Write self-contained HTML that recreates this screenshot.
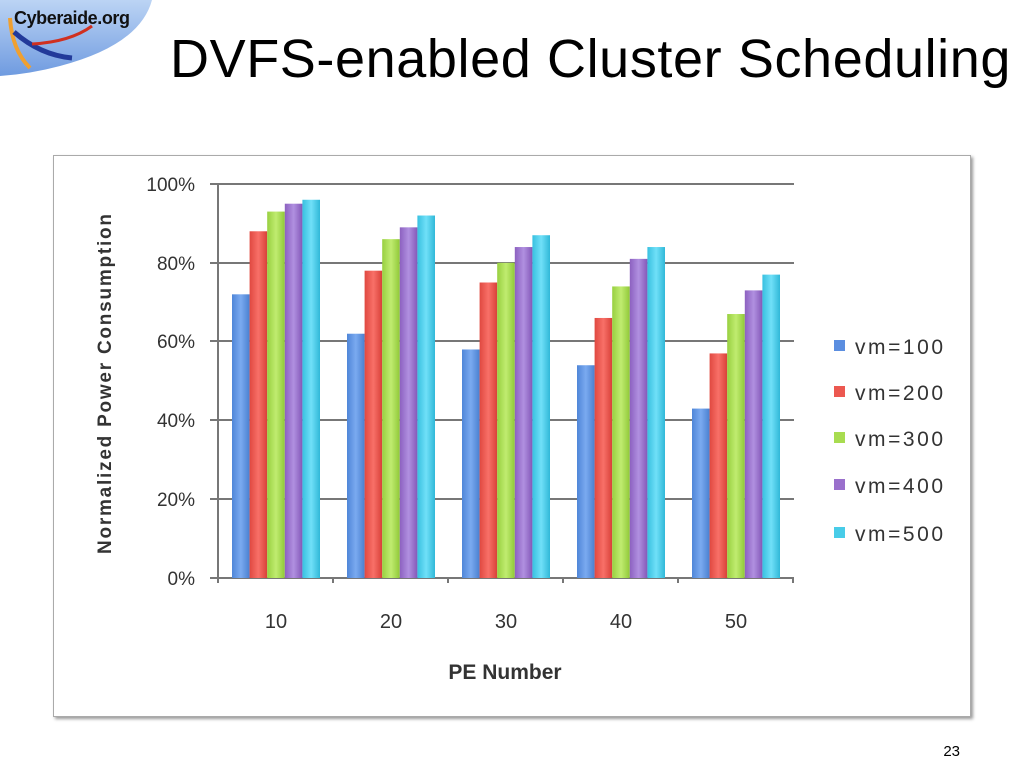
<!DOCTYPE html>
<html><head><style>
body{margin:0;width:1024px;height:768px;background:#fff;overflow:hidden;position:relative;font-family:"Liberation Sans",sans-serif}
.t{position:absolute;left:170px;top:28px;font-size:54px;color:#000;white-space:nowrap;letter-spacing:0.6px}
.box{position:absolute;left:53px;top:155px;width:916px;height:560px;border:1px solid #aaa;box-shadow:2px 2px 3px #999;background:#fff}
</style></head><body>
<svg style="position:absolute;left:0;top:0" width="160" height="80">
<defs><linearGradient id="g" x1="0" y1="0" x2="0" y2="1"><stop offset="0" stop-color="#bcd4f4"/><stop offset="1" stop-color="#6f9be0"/></linearGradient></defs>
<path d="M0 0 H152 Q140 45 60 66 Q30 74 0 76 Z" fill="url(#g)"/>
<path d="M10 18 Q12 50 30 68" stroke="#f0a030" stroke-width="4" fill="none"/>
<path d="M14 32 Q40 55 72 58" stroke="#223a9a" stroke-width="5" fill="none"/>
<path d="M32 44 Q70 42 92 26" stroke="#d03020" stroke-width="3" fill="none"/>
<text x="14" y="24" font-family="Liberation Sans" font-weight="bold" font-size="18" fill="#111" textLength="116">Cyberaide.org</text>
</svg>
<div class="t">DVFS-enabled Cluster Scheduling</div>
<div class="box"></div>
<svg style="position:absolute;left:0;top:0" width="1024" height="768" font-family="Liberation Sans">
<defs>
<linearGradient id="c0" x1="0" x2="1"><stop offset="0" stop-color="#4f86d8"/><stop offset=".5" stop-color="#7aaaf0"/><stop offset="1" stop-color="#4a80d0"/></linearGradient>
<linearGradient id="c1" x1="0" x2="1"><stop offset="0" stop-color="#e04840"/><stop offset=".5" stop-color="#f87068"/><stop offset="1" stop-color="#d84038"/></linearGradient>
<linearGradient id="c2" x1="0" x2="1"><stop offset="0" stop-color="#98d040"/><stop offset=".5" stop-color="#c0ec70"/><stop offset="1" stop-color="#90c838"/></linearGradient>
<linearGradient id="c3" x1="0" x2="1"><stop offset="0" stop-color="#8c60c0"/><stop offset=".5" stop-color="#b090e0"/><stop offset="1" stop-color="#8458b8"/></linearGradient>
<linearGradient id="c4" x1="0" x2="1"><stop offset="0" stop-color="#38c0e0"/><stop offset=".5" stop-color="#70e0f8"/><stop offset="1" stop-color="#30b8d8"/></linearGradient>
</defs>
<g stroke="#777" stroke-width="2">
<line x1="210" y1="184" x2="794" y2="184"/><line x1="210" y1="263" x2="794" y2="263"/>
<line x1="210" y1="341" x2="794" y2="341"/><line x1="210" y1="420" x2="794" y2="420"/>
<line x1="210" y1="499" x2="794" y2="499"/><line x1="210" y1="578" x2="794" y2="578"/>
<line x1="218" y1="184" x2="218" y2="583"/>
<line x1="333" y1="578" x2="333" y2="583"/><line x1="448" y1="578" x2="448" y2="583"/>
<line x1="563" y1="578" x2="563" y2="583"/><line x1="678" y1="578" x2="678" y2="583"/><line x1="793" y1="578" x2="793" y2="583"/>
</g>
<g id="bars"></g>
<g font-size="19" fill="#333" text-anchor="end">
<text x="195" y="191">100%</text><text x="195" y="270">80%</text><text x="195" y="348">60%</text>
<text x="195" y="427">40%</text><text x="195" y="506">20%</text><text x="195" y="585">0%</text>
</g>
<g font-size="20" fill="#333" text-anchor="middle">
<text x="276" y="628">10</text><text x="391" y="628">20</text><text x="506" y="628">30</text><text x="621" y="628">40</text><text x="736" y="628">50</text>
</g>
<text x="505" y="679" font-size="21" font-weight="bold" fill="#333" text-anchor="middle">PE Number</text>
<text transform="translate(111,384) rotate(-90)" font-size="19" font-weight="bold" fill="#333" text-anchor="middle" textLength="340">Normalized Power Consumption</text>
<g font-size="21" fill="#333">
<rect x="834" y="340" width="11" height="11" fill="#5b8ee0"/><text x="855" y="354" textLength="88">vm=100</text>
<rect x="834" y="386" width="11" height="11" fill="#ec5850"/><text x="855" y="400" textLength="88">vm=200</text>
<rect x="834" y="432" width="11" height="11" fill="#a8dc50"/><text x="855" y="446" textLength="88">vm=300</text>
<rect x="834" y="479" width="11" height="11" fill="#9a70cc"/><text x="855" y="493" textLength="88">vm=400</text>
<rect x="834" y="527" width="11" height="11" fill="#48cce8"/><text x="855" y="541" textLength="88">vm=500</text>
</g>
<text x="960" y="756" font-size="15" fill="#000" text-anchor="end">23</text>
</svg>
<script>
var v=[[72,88,93,95,96],[62,78,86,89,92],[58,75,80,84,87],[54,66,74,81,84],[43,57,67,73,77]];
var g=document.getElementById('bars'),s='';
for(var i=0;i<5;i++)for(var j=0;j<5;j++){var h=v[i][j]*3.94,x=232+i*115+j*17.6;
s+='<rect x="'+x+'" y="'+(578-h)+'" width="17.6" height="'+h+'" fill="url(#c'+j+')"/>';}
g.innerHTML=s;
</script>
</body></html>
